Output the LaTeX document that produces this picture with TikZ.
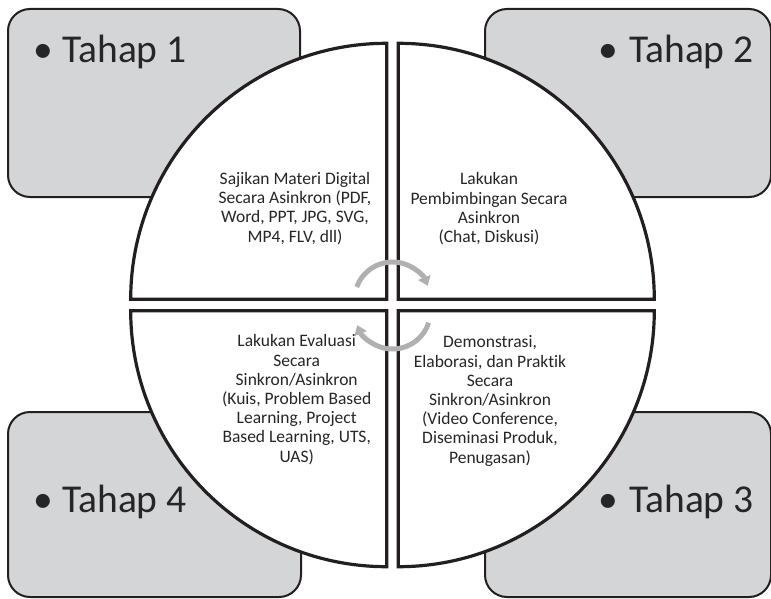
\documentclass[tikz,border=0pt]{standalone}
\usepackage{fontspec}
\setmainfont{Carlito}[Ligatures={NoCommon}]
\usetikzlibrary{arrows.meta}
\definecolor{boxgray}{RGB}{212,213,215}
\definecolor{linedark}{RGB}{35,31,32}
\definecolor{arrowgray}{RGB}{176,176,176}
\definecolor{textdark}{RGB}{38,38,38}
\begin{document}
\begin{tikzpicture}[x=1pt,y=-1pt,
  tahapbox/.style={draw=linedark, line width=2pt, fill=boxgray, rounded corners=22pt, inner sep=0pt},
  quad/.style={draw=linedark, line width=3.2pt, fill=white, line join=miter},
  tahaplabel/.style={font=\fontsize{39.5}{47}\selectfont, text=textdark, inner sep=0pt, anchor=base west},
  quadtext/.style={font=\fontsize{17.5}{19.2}\selectfont, text=textdark, align=center, inner sep=0pt, anchor=base},
  cyclearrow/.style={draw=arrowgray, line width=5pt, -{Triangle[width=13pt,length=9pt]}}
]
\useasboundingbox (0,0) rectangle (771,599);
% corner boxes
\node[tahapbox, minimum width=292pt, minimum height=188pt] (box1) at (154,103) {};
\node[tahapbox, minimum width=286pt, minimum height=188pt] (box2) at (628,103) {};
\node[tahapbox, minimum width=293pt, minimum height=185pt] (box4) at (154.5,504.5) {};
\node[tahapbox, minimum width=286pt, minimum height=185pt] (box3) at (628,504.5) {};
% labels
\node[tahaplabel] (t1) at (33,63) {\makebox[29pt][l]{•}Tahap 1};
\node[tahaplabel] (t2) at (598,63) {\makebox[31pt][l]{•}Tahap 2};
\node[tahaplabel] (t4) at (33,512) {\makebox[29pt][l]{•}Tahap 4};
\node[tahaplabel] (t3) at (598,512) {\makebox[31pt][l]{•}Tahap 3};
% quadrants
\path[quad] (386.7,299.3) -- ++(-256,0) arc[start angle=180, end angle=270, radius=256] -- cycle;
\path[quad] (398.3,299.3) -- ++(0,-256) arc[start angle=270, end angle=360, radius=256] -- cycle;
\path[quad] (398.3,310.7) -- ++(256,0) arc[start angle=0, end angle=90, radius=256] -- cycle;
\path[quad] (386.7,310.7) -- ++(0,256) arc[start angle=90, end angle=180, radius=256] -- cycle;
% quadrant texts (anchored at the baseline of the last line)
\node[quadtext] (q1) at (295,242) {Sajikan Materi Digital\\Secara Asinkron (PDF,\\Word, PPT, JPG, SVG,\\MP4, FLV, dll)};
\node[quadtext] (q2) at (489,242.5) {Lakukan\\Pembimbingan Secara\\Asinkron\\(Chat, Diskusi)};
\node[quadtext] (q3) at (490,463) {Demonstrasi,\\Elaborasi, dan Praktik\\Secara\\Sinkron/Asinkron\\(Video Conference,\\Diseminasi Produk,\\Penugasan)};
\node[quadtext] (q4) at (296.7,462) {Lakukan Evaluasi\\Secara\\Sinkron/Asinkron\\(Kuis, Problem Based\\Learning, Project\\Based Learning, UTS,\\UAS)};
% cycle arrows
\draw[cyclearrow] (392.5,300) ++(-160:38) arc[start angle=-160, end angle=-22, radius=38];
\draw[cyclearrow] (392.5,311) ++(18:38) arc[start angle=18, end angle=158, radius=38];
\end{tikzpicture}
\end{document}
